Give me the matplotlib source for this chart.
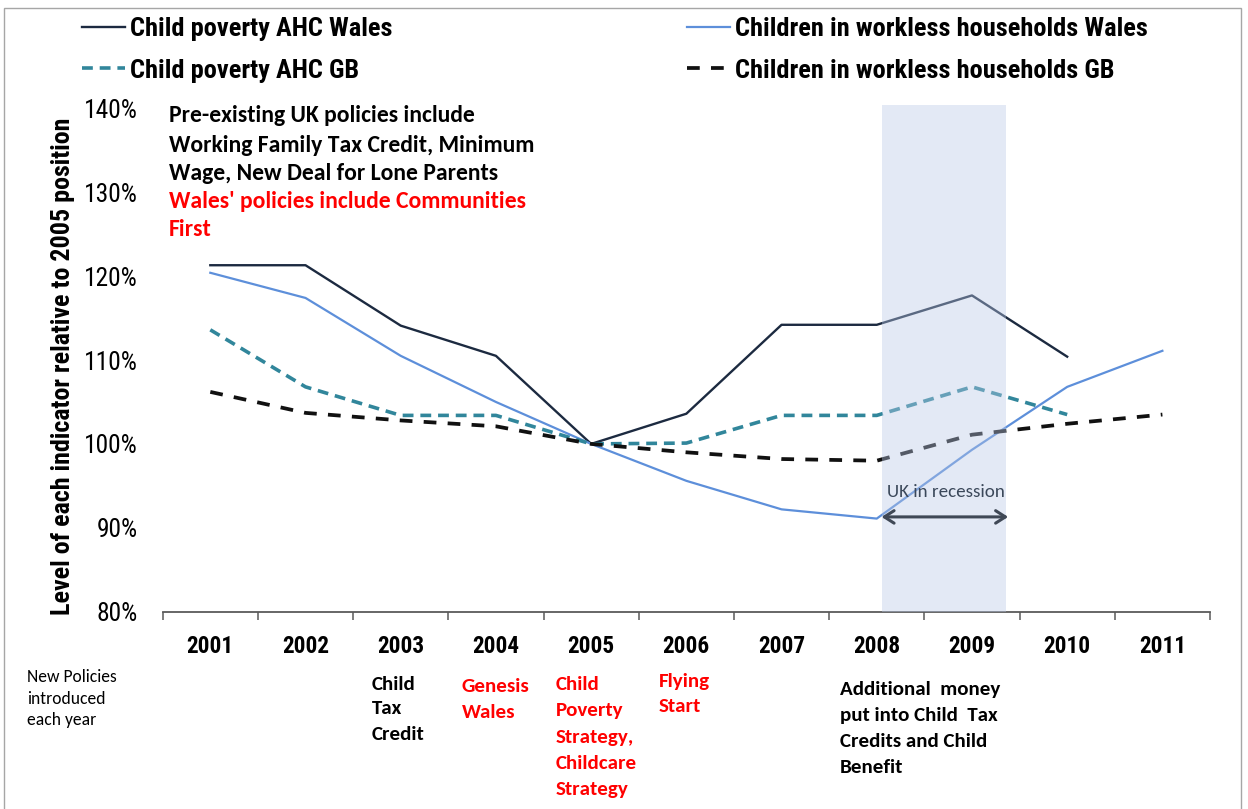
import matplotlib
matplotlib.use("Agg")
import matplotlib.pyplot as plt
from matplotlib import font_manager
from matplotlib.font_manager import FontProperties
from matplotlib.patches import Rectangle

# ---------------- data ----------------
years = ["2001", "2002", "2003", "2004", "2005", "2006", "2007", "2008", "2009", "2010", "2011"]
ahc_wales = [121.3, 121.3, 114.1, 110.5, 100.0, 103.6, 114.2, 114.2, 117.7, 110.4, None]
workless_wales = [120.4, 117.4, 110.5, 105.0, 100.0, 95.6, 92.2, 91.1, 99.3, 106.8, 111.1]
ahc_gb = [113.6, 106.8, 103.4, 103.4, 100.0, 100.1, 103.4, 103.4, 106.8, 103.5, None]
workless_gb = [106.2, 103.7, 102.8, 102.1, 100.0, 99.0, 98.2, 98.0, 101.1, 102.4, 103.5]
y_ticks = [80, 90, 100, 110, 120, 130, 140]

series_labels = ["Child poverty AHC Wales", "Child poverty AHC GB",
                 "Children in workless households Wales", "Children in workless households GB"]

recession_span = (7.05, 8.36)   # in category-index units
recession_arrow_y = 91.3

# ---------------- fonts ----------------
def find_narrow():
    cands = [("Liberation Sans Narrow", "normal"), ("Arial Narrow", "normal"),
             ("Roboto Condensed", "normal"), ("Open Sans Condensed", "normal"),
             ("DejaVu Sans", "condensed"), ("Noto Sans", "condensed"),
             ("Roboto", "condensed"), ("Open Sans", "condensed")]
    for name, stretch in cands:
        try:
            fp = FontProperties(family=name, stretch=stretch, weight="bold")
            path = font_manager.findfont(fp, fallback_to_default=False)
        except Exception:
            continue
        p = path.lower()
        if "narrow" in p or "condensed" in p or "cond" in p:
            return name, stretch
    return "Liberation Sans", "normal"

avail = {f.name for f in font_manager.fontManager.ttflist}
def pick(*names):
    for n in names:
        if n in avail:
            return n
    return "DejaVu Sans"

NARROW, NSTRETCH = find_narrow()
CAL = pick("Carlito", "Lato", "Open Sans", "DejaVu Sans")

def nfp(size, weight="bold"):
    return FontProperties(family=NARROW, stretch=NSTRETCH, weight=weight, size=size)

W, H = 1248, 809
fig = plt.figure(figsize=(W / 100, H / 100), dpi=100)
fig.patch.set_facecolor("white")
PX_PER_PT = 100 / 72

def fx(px):
    return px / W
def fy(py):
    return 1 - py / H

ax_left, ax_right, ax_top, ax_bot = 162.7, 1210.0, 105.0, 611.7
ax = fig.add_axes([fx(ax_left), fy(ax_bot), (ax_right - ax_left) / W, (ax_bot - ax_top) / H])

x = list(range(len(years)))

def clean(vals):
    xs = [i for i, v in zip(x, vals) if v is not None]
    ys = [v for v in vals if v is not None]
    return xs, ys

c_ahc_w = "#1c2a40"
c_wl_w = "#5d8fda"
c_ahc_gb = "#31869b"
c_wl_gb = "#111111"

l1, = ax.plot(*clean(ahc_wales), color=c_ahc_w, lw=1.7, zorder=3)
l3, = ax.plot(*clean(workless_wales), color=c_wl_w, lw=1.6, zorder=3)
l2, = ax.plot(*clean(ahc_gb), color=c_ahc_gb, lw=2.6, dashes=(3.0, 1.9), zorder=3)
l4, = ax.plot(*clean(workless_gb), color=c_wl_gb, lw=2.7, dashes=(3.4, 3.0), zorder=3)

# recession shading (semi-transparent, on top of lines)
ax.axvspan(recession_span[0], recession_span[1], color="#b9c8e6", alpha=0.4, lw=0, zorder=4)
ax.annotate("", xy=(recession_span[0], recession_arrow_y), xytext=(recession_span[1] + 0.02, recession_arrow_y),
            arrowprops=dict(arrowstyle="<->,head_length=0.7,head_width=0.45", color="#3f4856", lw=2.2,
                            shrinkA=0, shrinkB=0), zorder=5)
t_rec = ax.text((recession_span[0] + recession_span[1]) / 2 + 0.02, 94.3, "UK in recession", ha="center",
                va="center", fontsize=13.5, color="#3b485a", family=CAL, zorder=6)

ax.set_xlim(-0.5, len(years) - 0.5)
ax.set_ylim(80, 140.4)

for s in ["left", "top", "right"]:
    ax.spines[s].set_visible(False)
ax.spines["bottom"].set_color("#5a5a5a")
ax.spines["bottom"].set_linewidth(1.3)

ax.set_xticks([i - 0.5 for i in range(len(years) + 1)])
ax.set_xticklabels([])
ax.tick_params(axis="x", which="major", length=6, width=1.1, color="#5a5a5a", direction="out")
ax.set_xticks(x, minor=True)
ax.set_xticklabels(years, minor=True, fontproperties=nfp(18))
ax.tick_params(axis="x", which="minor", length=0, pad=17)

ax.set_yticks(y_ticks)
ax.set_yticklabels([f"{v}%" for v in y_ticks], fontproperties=nfp(17, "normal"))
ax.tick_params(axis="y", length=0, pad=18)

ylab = ax.set_ylabel("Level of each indicator relative to 2005 position", fontproperties=nfp(17))
ax.yaxis.set_label_coords((63 - ax_left) / (ax_right - ax_left), (ax_bot - 366) / (ax_bot - ax_top))
ylab.set_va("center")

# annotation text top-left
top_lines = [("Pre-existing UK policies include", "black", 116),
             ("Working Family Tax Credit, Minimum", "black", 145),
             ("Wage, New Deal for Lone Parents", "black", 173),
             ("Wales' policies include Communities", "#ff0000", 201),
             ("First", "#ff0000", 230)]
top_texts = []
for t, c, py in top_lines:
    top_texts.append(fig.text(fx(169), fy(py), t, color=c, fontsize=16, fontweight="bold", family=CAL,
                              va="center", ha="left"))

side_texts = []
for t, py in [("New Policies", 677), ("introduced", 699), ("each year", 720)]:
    side_texts.append(fig.text(fx(27), fy(py), t, fontsize=12, family=CAL, va="center", ha="left"))

policy_blocks = [
    (372, ["Child", "Tax", "Credit"], "black", 684, 25),
    (462, ["Genesis", "Wales"], "#ff0000", 686, 26),
    (556, ["Child", "Poverty", "Strategy,", "Childcare", "Strategy"], "#ff0000", 684, 26.5),
    (659, ["Flying", "Start"], "#ff0000", 681, 26),
    (840, ["Additional  money", "put into Child  Tax", "Credits and Child", "Benefit"], "black", 689, 26.3),
]
pol_texts = []
for px, lines, c, py0, dy in policy_blocks:
    for k, t in enumerate(lines):
        pol_texts.append(fig.text(fx(px), fy(py0 + k * dy), t, color=c, fontsize=15, fontweight="bold",
                                  family=CAL, va="center", ha="left"))

# ---------------- fit text sizes to reference widths ----------------
renderer = fig.canvas.get_renderer()

def width(t):
    return t.get_window_extent(renderer).width

def fit_group(texts, ref, target, vertical=False):
    bb = ref.get_window_extent(renderer)
    s = target / (bb.height if vertical else bb.width)
    for t in texts:
        t.set_fontsize(t.get_fontsize() * s)

fit_group(top_texts, top_texts[1], 366)
fit_group(side_texts, side_texts[0], 90)
fit_group(pol_texts, pol_texts[-4], 161)
fit_group([t_rec], t_rec, 118)

xt = ax.get_xticklabels(minor=True)
fit_group(xt, xt[0], 47)
yt = ax.get_yticklabels()
fit_group(yt, yt[-1], 54)
fit_group([ylab], ylab, 500, vertical=True)

# legend sized to reference
leg_fs = 18.0
probe = fig.text(0, 0, series_labels[0], fontproperties=nfp(leg_fs))
leg_fs *= 263 / width(probe)
probe.remove()
fs_px = leg_fs * PX_PER_PT
probe = fig.text(0, 0, series_labels[0], fontproperties=nfp(leg_fs))
col1_w = width(probe)
probe.remove()
leg = fig.legend([l1, l2, l3, l4], series_labels, ncol=2, loc="upper left",
                 bbox_to_anchor=(fx(82), fy(17)), frameon=False, prop=nfp(leg_fs),
                 borderpad=0, borderaxespad=0,
                 handlelength=43 / fs_px, handletextpad=5 / fs_px,
                 columnspacing=(687 - 130 - col1_w) / fs_px, labelspacing=(44 - fs_px) / fs_px)

# outer chart-area border
fig.patches.append(Rectangle((fx(4), fy(830)), fx(1241) - fx(4), fy(8) - fy(830), transform=fig.transFigure,
                             fill=False, edgecolor="#a6a6a6", lw=1.0))

fig.savefig("out.png", dpi=100)
